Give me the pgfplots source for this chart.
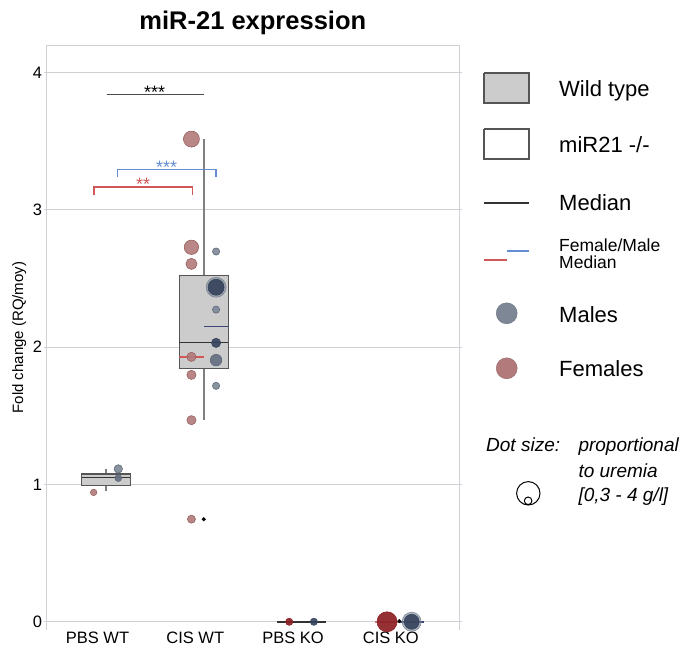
\documentclass[border=0pt]{standalone}
\usepackage{pgfplots}
\pgfplotsset{compat=1.18}
\usepgfplotslibrary{statistics}
\usepackage{fontspec}
\setmainfont{Liberation Sans}
\definecolor{femfill}{RGB}{178,122,122}
\definecolor{femdraw}{RGB}{150,96,96}
\definecolor{malefill}{RGB}{125,135,150}
\definecolor{maledraw}{RGB}{95,104,120}
\definecolor{malemid}{RGB}{100,110,128}
\definecolor{maledark}{RGB}{52,66,92}
\definecolor{darkred}{RGB}{140,32,36}
\definecolor{boxgray}{RGB}{204,204,204}
\definecolor{boxedge}{RGB}{85,85,85}
\definecolor{whiskgray}{RGB}{128,128,128}
\definecolor{framegray}{RGB}{208,208,214}
\definecolor{sigred}{RGB}{208,88,88}
\definecolor{sigblue}{RGB}{100,140,210}
\definecolor{mednavy}{RGB}{60,70,120}

\pgfplotsset{
  dot/.style n args={3}{only marks, mark=*, mark options={fill=#1, draw=#2, fill opacity=#3, line width=0.6pt}},
  fem/.style={dot={femfill}{femdraw}{0.9}},
  mlight/.style={dot={malefill}{maledraw}{0.9}},
  mmid/.style={dot={malemid}{maledraw}{0.9}},
  mhalo/.style={dot={malefill}{malefill}{0.6}},
  mdark/.style={dot={maledark}{maledark}{0.9}},
  rko/.style={dot={darkred}{darkred}{0.92}},
  cisbox/.style={
    boxplot/draw direction=y,
    boxplot/every box/.style={draw=boxedge, fill=boxgray, line width=1.3pt},
    boxplot/every whisker/.style={draw=whiskgray, line width=1.6pt},
    boxplot/every median/.style={draw=black!80, line width=1.8pt}},
}

\begin{document}
\begin{tikzpicture}
\useasboundingbox (0,0) rectangle (687pt,-647pt);
\begin{axis}[
  at={(46.7pt,-45pt)}, anchor=north west,
  width=412.3pt, height=585pt, scale only axis,
  xmin=0.394, xmax=4.61, ymin=-0.06, ymax=4.2,
  axis line style={draw=none},
  clip=false,
  ymajorgrids, grid style={draw=framegray, line width=0.9pt},
  ytick={0,1,2,3,4},
  xtick={1,2,3,4}, xticklabels={PBS WT, CIS WT, PBS KO, CIS KO},
  xtick style={draw=none},
  ytick style={draw=framegray, line width=0.9pt},
  tick align=outside, major tick length=3pt,
  tick label style={font=\fontsize{16.5}{18}\selectfont},
  xticklabel style={xshift=-8.5pt, yshift=5pt},
  yticklabel style={xshift=2pt},
  /pgf/number format/assume math mode=true,
  ylabel={Fold change (RQ/moy)},
  every axis y label/.style={at={(rel axis cs:0,0.5)}, rotate=90, anchor=center, yshift=27.5pt, font=\fontsize{15}{17}\selectfont},
]
\draw[framegray, line width=0.9pt] (rel axis cs:0,0) -- (rel axis cs:0,1) -- (rel axis cs:1,1) -- (rel axis cs:1,0);
\node[anchor=base, yshift=15pt, font=\fontsize{25.5}{28}\selectfont\bfseries] at (rel axis cs:0.5,1) {miR-21 expression};

% box plots
\addplot[cisbox, boxplot prepared={draw position=1, lower whisker=0.949, lower quartile=0.993, median=1.051, upper quartile=1.077, upper whisker=1.113, box extend=0.5, whisker extend=0}] coordinates {};
\addplot[cisbox, boxplot prepared={draw position=2, lower whisker=1.468, lower quartile=1.846, median=2.033, upper quartile=2.521, upper whisker=3.513, box extend=0.5, whisker extend=0}] coordinates {};

% KO medians
\addplot[draw=black!80, line width=1.6pt] coordinates {(2.75,0) (3.25,0)};

% females
\addplot[fem, mark size=3.2pt] coordinates {(0.874,0.942)};
\addplot[fem, mark size=8pt] coordinates {(1.874,3.515)};
\addplot[fem, mark size=7.2pt] coordinates {(1.874,2.727)};
\addplot[fem, mark size=5.6pt] coordinates {(1.874,2.606)};
\addplot[fem, mark size=4.6pt] coordinates {(1.874,1.929)};
\addplot[fem, mark size=4.6pt] coordinates {(1.874,1.798)};
\addplot[fem, mark size=4.6pt] coordinates {(1.874,1.468)};
\addplot[fem, mark size=4pt] coordinates {(1.874,0.747)};
% males
\addplot[mlight, mark size=4.2pt] coordinates {(1.126,1.113)};
\addplot[mmid, mark size=3.4pt] coordinates {(1.126,1.046)};
\addplot[mlight, mark size=3.6pt] coordinates {(2.126,2.696)};
\addplot[mhalo, mark size=10pt] coordinates {(2.126,2.436)};
\addplot[mdark, mark size=8pt] coordinates {(2.126,2.436)};
\addplot[mlight, mark size=3.6pt] coordinates {(2.126,2.273)};
\addplot[mdark, mark size=4.6pt] coordinates {(2.126,2.031)};
\addplot[mmid, mark size=5.8pt] coordinates {(2.126,1.905)};
\addplot[mlight, mark size=3.6pt] coordinates {(2.126,1.718)};
% KO
\addplot[rko, mark size=3.6pt] coordinates {(2.874,0)};
\addplot[mdark, mark size=3.6pt] coordinates {(3.126,0)};
\addplot[rko, mark size=10pt] coordinates {(3.874,0)};
\addplot[mhalo, mark size=9.5pt] coordinates {(4.126,0)};
\addplot[mdark, mark size=7.5pt] coordinates {(4.126,0)};
% outliers
\addplot[only marks, mark=*, mark size=1.8pt, black] coordinates {(2,0.747) (4,0.005)};

% sex medians
\addplot[draw=sigred, line width=1.6pt] coordinates {(1.75,1.929) (2.0,1.929)};
\addplot[draw=mednavy, line width=1.6pt] coordinates {(2.0,2.15) (2.25,2.15)};
\addplot[draw=sigred!80!white, line width=1.6pt] coordinates {(3.75,0) (4.0,0)};
\addplot[draw=mednavy, line width=1.6pt] coordinates {(4.0,0) (4.25,0)};

% significance
\addplot[draw=black!70, line width=1.2pt] coordinates {(1.007,3.84) (2.0,3.84)};
\addplot[draw=sigblue, line width=1.4pt] coordinates {(1.116,3.24) (1.116,3.293) (2.125,3.293) (2.125,3.24)};
\addplot[draw=sigred, line width=1.4pt] coordinates {(0.877,3.11) (0.877,3.166) (1.882,3.166) (1.882,3.11)};
\node[anchor=base, inner sep=0pt, font=\fontsize{18}{20}\selectfont, text=black] at (axis cs:1.498,3.811) {***};
\node[anchor=base, inner sep=0pt, font=\fontsize{18}{20}\selectfont, text=sigblue] at (axis cs:1.62,3.263) {***};
\node[anchor=base, inner sep=0pt, font=\fontsize{18}{20}\selectfont, text=sigred] at (axis cs:1.38,3.144) {**};
\end{axis}

\begin{axis}[at={(0pt,0pt)}, anchor=north west, width=687pt, height=647pt, scale only axis,
  xmin=0, xmax=687, ymin=0, ymax=647, y dir=reverse, hide axis, clip=false]
\addplot[fill=boxgray, draw=boxedge, line width=1.5pt] coordinates {(484,73) (529,73) (529,103) (484,103) (484,73)};
\addplot[fill=white, draw=boxedge, line width=1.5pt] coordinates {(484,129) (529,129) (529,159) (484,159) (484,129)};
\addplot[draw=black!80, line width=1.6pt] coordinates {(484,202.7) (529,202.7)};
\addplot[draw=sigred, line width=1.6pt] coordinates {(484,260) (507,260)};
\addplot[draw=sigblue, line width=1.6pt] coordinates {(507,251) (529,251)};
\addplot[only marks, mark=*, mark size=10.5pt, mark options={fill=malefill, draw=malefill!85!black}] coordinates {(506.7,313.3)};
\addplot[only marks, mark=*, mark size=10.5pt, mark options={fill=femfill, draw=femfill!85!black}] coordinates {(506.7,368.3)};
\addplot[only marks, mark=o, mark size=11.7pt, mark options={draw=black, line width=1pt}] coordinates {(528.3,493.3)};
\addplot[only marks, mark=o, mark size=3.8pt, mark options={draw=black, line width=1pt}] coordinates {(528.1,500.8)};

\node[anchor=base west, inner sep=0pt, font=\fontsize{22}{24}\selectfont] at (axis cs:559,96.7) {Wild type};
\node[anchor=base west, inner sep=0pt, font=\fontsize{22}{24}\selectfont] at (axis cs:559,152.5) {miR21 -/-};
\node[anchor=base west, inner sep=0pt, font=\fontsize{22}{24}\selectfont] at (axis cs:559,210) {Median};
\node[anchor=base west, inner sep=0pt, font=\fontsize{17.5}{19}\selectfont] at (axis cs:559,251.2) {Female/Male};
\node[anchor=base west, inner sep=0pt, font=\fontsize{17.5}{19}\selectfont] at (axis cs:559,268.6) {Median};
\node[anchor=base west, inner sep=0pt, font=\fontsize{22}{24}\selectfont] at (axis cs:559,322.7) {Males};
\node[anchor=base west, inner sep=0pt, font=\fontsize{22}{24}\selectfont] at (axis cs:559,376) {Females};
\node[anchor=base west, inner sep=0pt, font=\fontsize{19}{21}\selectfont\itshape] at (axis cs:486,451.7) {Dot size:};
\node[anchor=base west, inner sep=0pt, font=\fontsize{19}{21}\selectfont\itshape] at (axis cs:578.3,451.7) {proportional};
\node[anchor=base west, inner sep=0pt, font=\fontsize{19}{21}\selectfont\itshape] at (axis cs:578.3,477.3) {to uremia};
\node[anchor=base west, inner sep=0pt, font=\fontsize{19}{21}\selectfont\itshape] at (axis cs:578.3,501.7) {[0,3 - 4 g/l]};
\end{axis}
\end{tikzpicture}
\end{document}
